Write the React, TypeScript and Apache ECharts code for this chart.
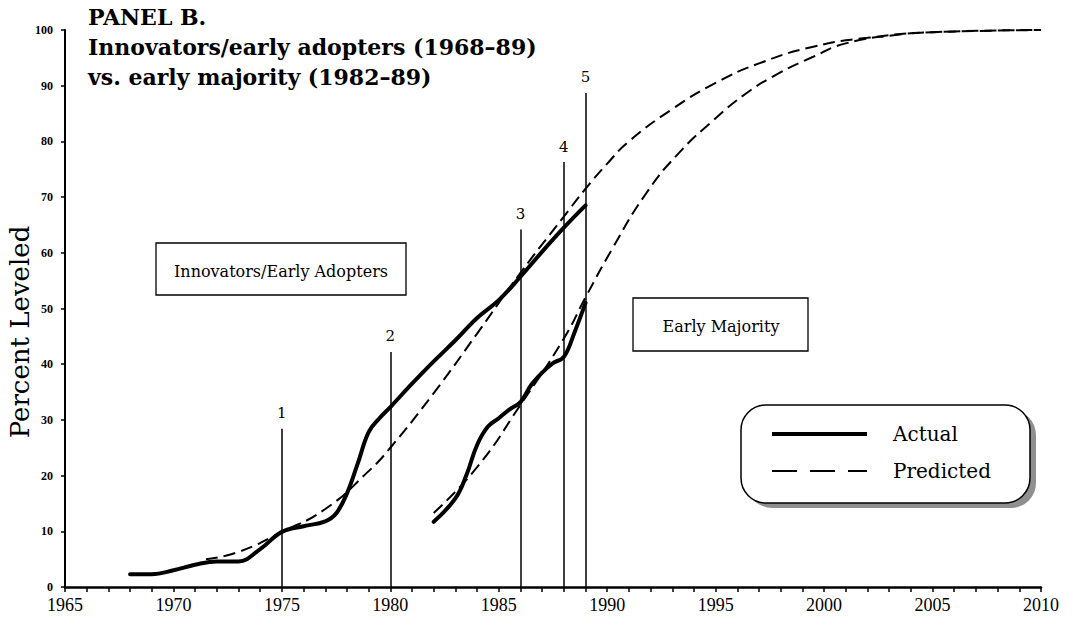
import React, { useEffect, useRef } from "react";
import * as echarts from "echarts";

// ---- Data ----
const innovActualYears = [1968, 1969, 1970, 1971, 1972, 1973, 1974, 1975, 1976, 1977, 1977.5, 1978, 1978.5, 1979, 1979.5, 1980, 1981, 1982, 1983, 1984, 1985, 1986, 1987, 1988, 1989];
const innovActualValues = [2.3, 2.3, 3.0, 4.0, 4.6, 4.6, 6.8, 9.9, 10.9, 11.8, 13.2, 16.8, 22.2, 27.8, 30.3, 32.3, 36.5, 40.5, 44.3, 48.3, 51.5, 55.7, 60.2, 64.5, 68.5];

const majorityActualYears = [1982, 1983, 1983.5, 1984, 1984.5, 1985, 1985.5, 1986, 1986.5, 1987, 1987.5, 1988, 1988.5, 1989];
const majorityActualValues = [11.7, 15.9, 20.0, 25.5, 28.8, 30.3, 31.9, 33.2, 36.3, 38.5, 40.2, 41.3, 45.8, 51.0];

const innovPredYears = [1971.5, 1973, 1975, 1977, 1979, 1980, 1982, 1984, 1986, 1988, 1989, 1990, 1991, 1993, 1995, 1997, 1999.5, 2002, 2005, 2010];
const innovPredValues = [5.0, 6.3, 9.9, 14.0, 20.8, 25.0, 34.8, 45.5, 56.4, 66.5, 71.5, 76.0, 80.0, 85.8, 90.5, 94.0, 97.0, 98.6, 99.6, 100];

const majorityPredYears = [1982, 1984, 1986, 1988, 1989, 1990.2, 1991.8, 1993.3, 1994.9, 1996.4, 1997.9, 1999.5, 2001, 2003.3, 2005, 2010];
const majorityPredValues = [13.3, 21.5, 32.7, 44.6, 52.0, 60.5, 70.7, 77.9, 83.8, 88.6, 92.2, 95.2, 97.6, 99.1, 99.6, 100];

const markerYears = [1975, 1980, 1986, 1988, 1989];
const markerTops = [28.4, 42.2, 64.2, 76.3, 88.7];
const markerLabels = ["1", "2", "3", "4", "5"];

const titleLines = ["PANEL B.", "Innovators/early adopters (1968–89)", "vs. early majority (1982–89)"];
const yAxisTitle = "Percent Leveled";
const boxLabels = ["Innovators/Early Adopters", "Early Majority"];
const legendLabels = ["Actual", "Predicted"];

const pairs = (xs: number[], ys: number[]) => xs.map((x, i) => [x, ys[i]]);

const SERIF = "DejaVu Serif";

export default function App() {
  const ref = useRef<HTMLDivElement>(null);
  useEffect(() => {
    const chart = echarts.init(ref.current!, null, { renderer: "svg" });
    const solid = { color: "#000", width: 4, cap: "round", join: "round" };
    const dashed = { color: "#000", width: 2, type: [12, 6] };
    chart.setOption({
      animation: false,
      backgroundColor: "#fff",
      grid: { left: 65, right: 34, top: 30, bottom: 40 },
      xAxis: {
        type: "value",
        min: 1965,
        max: 2010,
        interval: 5,
        splitLine: { show: false },
        axisLine: { lineStyle: { color: "#000", width: 2.5 } },
        axisTick: { show: true, length: 5, lineStyle: { color: "#000", width: 1.5 } },
        minorTick: { show: true, splitNumber: 5, length: 5, lineStyle: { color: "#000", width: 1.5 } },
        axisLabel: {
          color: "#000",
          fontFamily: "Liberation Serif",
          fontSize: 18,
          margin: 9,
          formatter: (v: number) => String(v),
        },
      },
      yAxis: {
        type: "value",
        min: 0,
        max: 100,
        interval: 10,
        splitLine: { show: false },
        axisLine: { show: true, lineStyle: { color: "#000", width: 2 } },
        axisTick: { show: true, length: 4, lineStyle: { color: "#000", width: 1.5 } },
        axisLabel: { color: "#000", fontFamily: "Liberation Serif", fontWeight: "bold", fontSize: 12, margin: 12 },
      },
      series: [
        {
          type: "line",
          name: "Actual",
          data: pairs(innovActualYears, innovActualValues),
          smooth: 0.4,
          symbol: "none",
          lineStyle: solid,
          z: 3,
          markLine: {
            silent: true,
            symbol: ["none", "none"],
            lineStyle: { color: "#000", width: 1.5, type: "solid" },
            label: {
              show: true,
              position: "end",
              formatter: "{b}",
              color: "#000",
              fontFamily: SERIF,
              fontSize: 15,
              distance: 8,
            },
            data: markerYears.map((yr, i) => [
              { name: markerLabels[i], coord: [yr, 0] },
              { coord: [yr, markerTops[i]] },
            ]),
          },
        },
        {
          type: "line",
          name: "Actual",
          data: pairs(majorityActualYears, majorityActualValues),
          smooth: 0.4,
          symbol: "none",
          lineStyle: solid,
          z: 3,
        },
        {
          type: "line",
          name: "Predicted",
          data: pairs(innovPredYears, innovPredValues),
          smooth: 0.5,
          symbol: "none",
          lineStyle: dashed,
          z: 2,
        },
        {
          type: "line",
          name: "Predicted",
          data: pairs(majorityPredYears, majorityPredValues),
          smooth: 0.5,
          symbol: "none",
          lineStyle: dashed,
          z: 2,
        },
      ],
      graphic: [
        ...titleLines.map((t, i) => ({
          type: "text",
          x: 88,
          y: [17, 47, 77][i],
          style: { text: t, fontFamily: SERIF, fontWeight: "bold", fontSize: 22, fill: "#000", align: "left", verticalAlign: "middle" },
        })),
        {
          type: "text",
          x: 20,
          y: 332,
          rotation: Math.PI / 2,
          style: { text: yAxisTitle, fontFamily: SERIF, fontSize: 26, fill: "#000", align: "center", verticalAlign: "middle" },
        },
        {
          type: "rect",
          shape: { x: 156, y: 243, width: 250, height: 52 },
          style: { fill: "#fff", stroke: "#000", lineWidth: 1.3 },
        },
        {
          type: "text",
          x: 281,
          y: 271,
          style: { text: boxLabels[0], fontFamily: SERIF, fontSize: 16, fill: "#000", align: "center", verticalAlign: "middle" },
        },
        {
          type: "rect",
          shape: { x: 633, y: 298, width: 175, height: 53 },
          style: { fill: "#fff", stroke: "#000", lineWidth: 1.3 },
        },
        {
          type: "text",
          x: 721,
          y: 326,
          style: { text: boxLabels[1], fontFamily: SERIF, fontSize: 16, fill: "#000", align: "center", verticalAlign: "middle" },
        },
        {
          type: "rect",
          shape: { x: 747, y: 410, width: 289, height: 98, r: 25 },
          style: { fill: "#8f8f8f", stroke: "none" },
        },
        {
          type: "rect",
          shape: { x: 741, y: 405, width: 289, height: 98, r: 25 },
          style: { fill: "#fff", stroke: "#000", lineWidth: 1.5 },
        },
        {
          type: "line",
          shape: { x1: 772, y1: 434, x2: 867, y2: 434 },
          style: { stroke: "#000", lineWidth: 4 },
        },
        {
          type: "line",
          shape: { x1: 772, y1: 471, x2: 867, y2: 471 },
          style: { stroke: "#000", lineWidth: 2, lineDash: [25, 13] },
        },
        {
          type: "text",
          x: 893,
          y: 434,
          style: { text: legendLabels[0], fontFamily: SERIF, fontSize: 20, fill: "#000", align: "left", verticalAlign: "middle" },
        },
        {
          type: "text",
          x: 893,
          y: 471,
          style: { text: legendLabels[1], fontFamily: SERIF, fontSize: 20, fill: "#000", align: "left", verticalAlign: "middle" },
        },
      ],
    });
    return () => chart.dispose();
  }, []);
  return (
    <div
      ref={ref}
      style={{ position: "fixed", left: 0, top: 0, width: 1075, height: 627, background: "#fff" }}
    />
  );
}
